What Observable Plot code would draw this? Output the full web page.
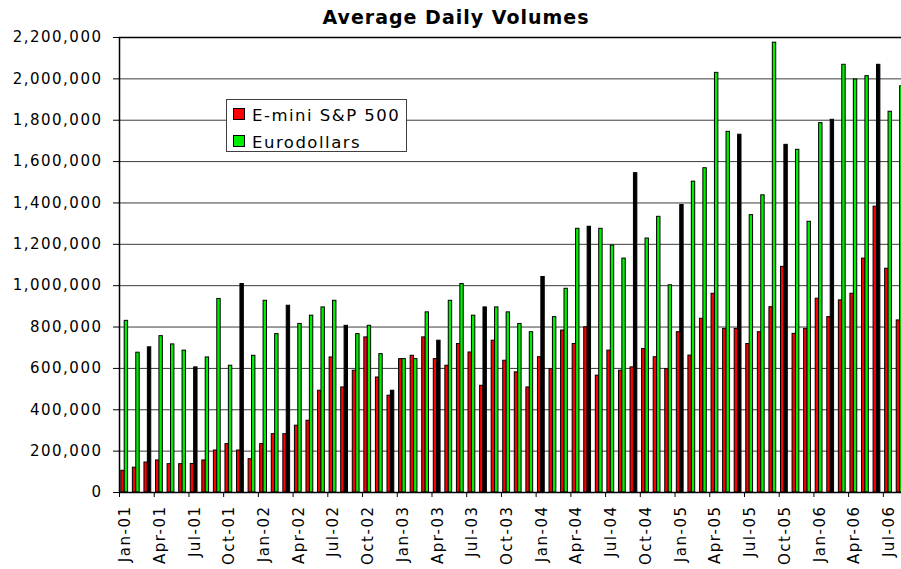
<!DOCTYPE html>
<html>
<head>
<meta charset="utf-8">
<script src="https://cdn.jsdelivr.net/npm/d3@7"></script>
<script src="https://cdn.jsdelivr.net/npm/@observablehq/plot@0.6"></script>
<style>
html, body { margin: 0; padding: 0; background: #fff; overflow: hidden; }
#chart svg { display: block; max-width: none; }
#chart svg text { letter-spacing: 1.5px; }
</style>
</head>
<body>
<div id="chart"></div>
<script>
const months = [
  "Jan-01","Feb-01","Mar-01","Apr-01","May-01","Jun-01","Jul-01","Aug-01","Sep-01","Oct-01","Nov-01","Dec-01",
  "Jan-02","Feb-02","Mar-02","Apr-02","May-02","Jun-02","Jul-02","Aug-02","Sep-02","Oct-02","Nov-02","Dec-02",
  "Jan-03","Feb-03","Mar-03","Apr-03","May-03","Jun-03","Jul-03","Aug-03","Sep-03","Oct-03","Nov-03","Dec-03",
  "Jan-04","Feb-04","Mar-04","Apr-04","May-04","Jun-04","Jul-04","Aug-04","Sep-04","Oct-04","Nov-04","Dec-04",
  "Jan-05","Feb-05","Mar-05","Apr-05","May-05","Jun-05","Jul-05","Aug-05","Sep-05","Oct-05","Nov-05","Dec-05",
  "Jan-06","Feb-06","Mar-06","Apr-06","May-06","Jun-06","Jul-06","Aug-06"
];

const emini = [
  105000, 120000, 145000, 155000, 137000, 137000, 138000, 155000, 203000, 234000, 203000, 161000,
  234000, 282000, 282000, 323000, 347000, 492000, 653000, 508000, 589000, 750000, 556000, 468000,
  645000, 661000, 750000, 645000, 613000, 718000, 677000, 516000, 734000, 637000, 581000, 508000,
  654000, 597000, 783000, 718000, 799000, 565000, 686000, 589000, 605000, 694000, 654000, 597000,
  775000, 662000, 840000, 961000, 791000, 791000, 718000, 775000, 896000, 1091000, 767000, 791000,
  937000, 848000, 929000, 961000, 1131000, 1382000, 1082000, 832000
];

const eurodollars = [
  830000, 676000, 702000, 756000, 716000, 686000, 605000, 653000, 936000, 613000, 1008000, 661000,
  927000, 766000, 903000, 815000, 855000, 895000, 927000, 806000, 766000, 806000, 669000, 492000,
  645000, 645000, 871000, 734000, 927000, 1008000, 855000, 895000, 895000, 871000, 815000, 775000,
  1042000, 848000, 985000, 1275000, 1285000, 1275000, 1194000, 1131000, 1544000, 1228000, 1333000, 1002000,
  1390000, 1503000, 1568000, 2029000, 1744000, 1730000, 1341000, 1437000, 2175000, 1681000, 1657000, 1309000,
  1786000, 1802000, 2068000, 1997000, 2013000, 2068000, 1841000, 1964000
];

// Eurodollar bars that the original renders as solid dark outlines (too narrow for their fill to show)
const eurodollarsOutlineOnly = [
  "Mar-01","Jul-01","Nov-01","Mar-02","Aug-02","Dec-02","Apr-03","Aug-03",
  "Jan-04","May-04","Sep-04","Jan-05","Jun-05","Oct-05","Feb-06","Jun-06"
];

const yTicks = [0, 200000, 400000, 600000, 800000, 1000000, 1200000, 1400000, 1600000, 1800000, 2000000, 2200000];

const xTickLabels = [
  "Jan-01","Apr-01","Jul-01","Oct-01","Jan-02","Apr-02","Jul-02","Oct-02",
  "Jan-03","Apr-03","Jul-03","Oct-03","Jan-04","Apr-04","Jul-04","Oct-04",
  "Jan-05","Apr-05","Jul-05","Oct-05","Jan-06","Apr-06","Jul-06"
];

const seriesNames = ["E-mini S&P 500", "Eurodollars"];
const seriesColors = ["#ff0000", "#00ee00"];
const titleText = "Average Daily Volumes";

const W = 901, H = 569;
const marginLeft = 119, marginRight = -5, marginTop = 37, marginBottom = 77;
const bw = (W - marginLeft - marginRight) / months.length;

const outlineSet = new Set(eurodollarsOutlineOnly);
const data = months.map((m, i) => ({month: m, emini: emini[i], euro: eurodollars[i]}));
const fmt = d3.format(",");

const chart = Plot.plot({
  width: W,
  height: H,
  marginLeft, marginRight, marginTop, marginBottom,
  style: {fontFamily: "'DejaVu Sans', Verdana, sans-serif", fontSize: "15px", color: "#000", background: "#fff", overflow: "hidden"},
  x: {domain: months, padding: 0, axis: null, label: null},
  y: {domain: [0, 2200000], axis: null, label: null},
  color: {type: "identity"},
  marks: [
    Plot.ruleY(yTicks.slice(1, -1), {stroke: "#3c3c3c", strokeWidth: 1}),
    Plot.barY(data, {
      x: "month", y: "emini",
      fill: seriesColors[0], stroke: "#000", strokeWidth: 1,
      insetLeft: 1.8, insetRight: bw - 5.2
    }),
    Plot.barY(data, {
      x: "month", y: "euro",
      fill: d => outlineSet.has(d.month) ? "#000" : seriesColors[1],
      stroke: "#000", strokeWidth: 1,
      insetLeft: 5.2, insetRight: bw - 8.6
    }),
    Plot.frame({stroke: "#000", strokeWidth: 1.5}),
    Plot.axisY({
      ticks: yTicks, tickFormat: d => fmt(d), tickSize: 6, tickPadding: 11,
      fontSize: 15, stroke: "#000", label: null
    }),
    Plot.axisX({
      ticks: xTickLabels, tickSize: 5, tickFormat: () => "", dx: -bw / 2, stroke: "#000", label: null
    }),
    Plot.axisX({
      ticks: xTickLabels, tickSize: 0, tickRotate: -90, tickPadding: 13, fontSize: 15, label: null
    })
  ]
});

document.getElementById("chart").appendChild(chart);

// Title and legend drawn into the same SVG
const svg = d3.select(chart);
svg.append("text")
  .attr("x", 456).attr("y", 24)
  .attr("text-anchor", "middle")
  .attr("font-weight", "bold")
  .attr("font-size", 19)
  .style("letter-spacing", "1px")
  .attr("fill", "#000")
  .text(titleText);

const lg = svg.append("g").attr("aria-label", "legend").attr("text-anchor", "start");
lg.append("rect")
  .attr("x", 226.5).attr("y", 99.5).attr("width", 180).attr("height", 52)
  .attr("fill", "#fff").attr("stroke", "#404040").attr("stroke-width", 1);
seriesNames.forEach((name, i) => {
  const y0 = 108.5 + i * 27;
  lg.append("rect")
    .attr("x", 233.5).attr("y", y0).attr("width", 11).attr("height", 11)
    .attr("fill", seriesColors[i]).attr("stroke", "#000").attr("stroke-width", 1);
  lg.append("text")
    .attr("x", 252).attr("y", y0 + 12.5)
    .attr("text-anchor", "start")
    .attr("font-size", 16.5)
    .attr("fill", "#000")
    .style("letter-spacing", "1.5px")
    .text(name);
});
</script>
</body>
</html>
